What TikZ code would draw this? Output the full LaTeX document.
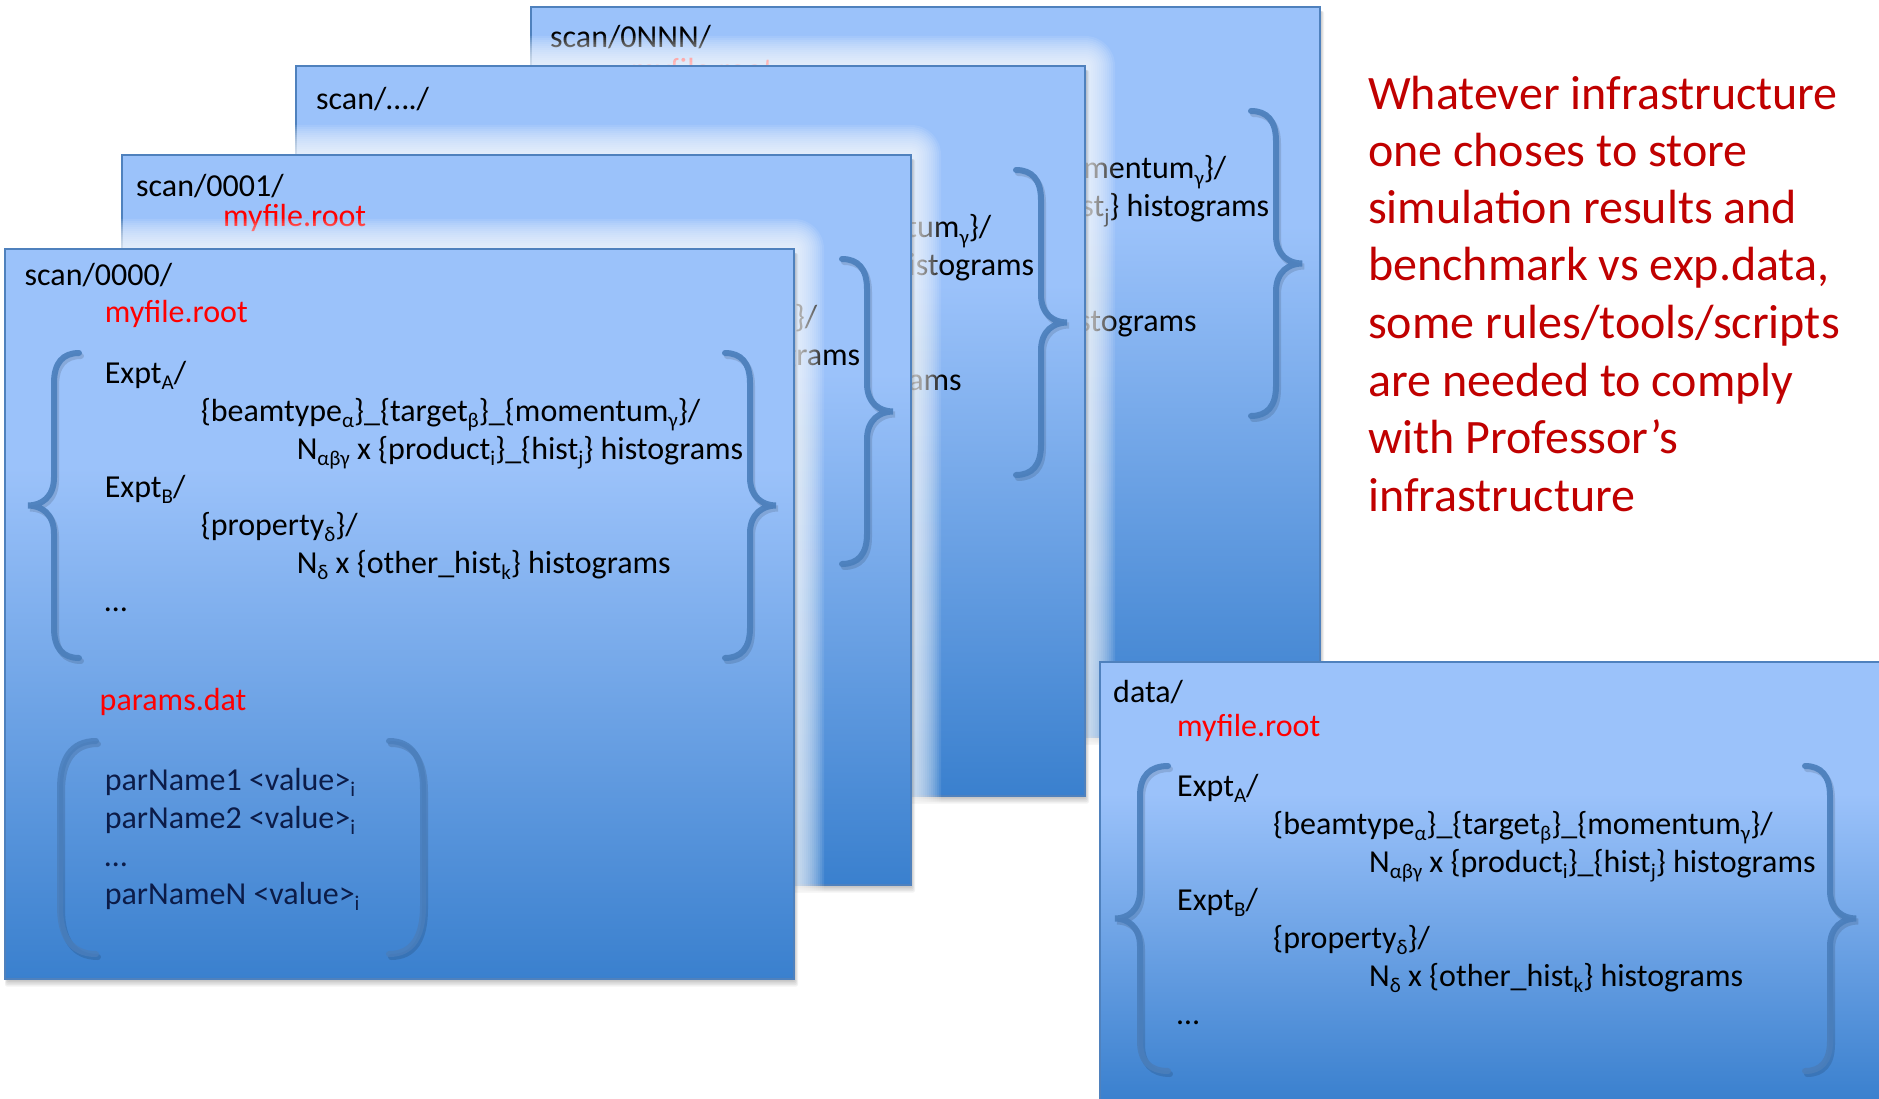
\documentclass[tikz,border=0pt]{standalone}
\usepackage{fontspec}
\setmainfont{Carlito}
\usepackage{graphicx}
\definecolor{sltop}{RGB}{155,194,250}
\definecolor{slbot}{RGB}{58,128,206}
\definecolor{bordc}{RGB}{79,129,189}
\definecolor{bracec}{RGB}{74,126,187}
\definecolor{navytxt}{RGB}{12,28,72}
\definecolor{filered}{RGB}{255,0,0}
\definecolor{notered}{RGB}{192,0,0}
\pgfdeclareverticalshading{slideshade}{100bp}{color(0bp)=(slbot); color(25bp)=(slbot); color(60bp)=(sltop); color(100bp)=(sltop)}
\newcommand\mfont{\fontsize{32}{38}\selectfont}
\newcommand\sbs[1]{\raisebox{-6.5pt}{\fontsize{21}{21}\selectfont #1}}
\tikzset{
  txt/.style={anchor=base west, inner sep=0pt, font=\mfont, text=black},
  filetxt/.style={txt, text=filered},
  partxt/.style={txt, text=navytxt},
  notetxt/.style={anchor=base west, inner sep=0pt, font=\fontsize{48}{57}\selectfont, text=notered},
  bracestroke/.style={draw=bracec, line width=6pt, line cap=round, opacity=0.9},
  braceshadow/.style={draw=black, line width=6pt, line cap=round, opacity=0.12},
  slidebox/.style={shade, shading=slideshade, draw=bordc, line width=2pt},
}
% curly brace: end x, vertical x, tip x, top y, bottom y
\newcommand\curly[5]{%
  \pgfmathsetmacro\cxe{#1}\pgfmathsetmacro\cxv{#2}\pgfmathsetmacro\cxt{#3}%
  \pgfmathsetmacro\cyt{#4}\pgfmathsetmacro\cyb{#5}%
  \pgfmathsetmacro\cym{(\cyt+\cyb)/2}%
  \pgfmathsetmacro\cca{\cxv+0.35*(\cxe-\cxv)}%
  \pgfmathsetmacro\ccb{\cxt+0.5*(\cxv-\cxt)}%
  \def\curlypath{(\cxe,\cyt) .. controls (\cca,\cyt) and (\cxv,{\cyt+10}) .. (\cxv,{\cyt+30})
    -- (\cxv,{\cym-28}) .. controls (\cxv,{\cym-8}) and (\ccb,\cym) .. (\cxt,\cym)
    .. controls (\ccb,\cym) and (\cxv,{\cym+8}) .. (\cxv,{\cym+28})
    -- (\cxv,{\cyb-30}) .. controls (\cxv,{\cyb-10}) and (\cca,\cyb) .. (\cxe,\cyb)}%
  \draw[braceshadow, shift={(2,3)}] \curlypath;
  \draw[bracestroke] \curlypath;
}
% parenthesis: end x, vertical x, top y, bottom y
\newcommand\paren[4]{%
  \pgfmathsetmacro\pxe{#1}\pgfmathsetmacro\pxv{#2}%
  \pgfmathsetmacro\pyt{#3}\pgfmathsetmacro\pyb{#4}%
  \pgfmathsetmacro\pca{\pxv+0.3*(\pxe-\pxv)}%
  \def\parenpath{(\pxe,\pyt) .. controls (\pca,\pyt) and (\pxv,{\pyt+18}) .. (\pxv,{\pyt+48})
    -- (\pxv,{\pyb-48}) .. controls (\pxv,{\pyb-18}) and (\pca,\pyb) .. (\pxe,\pyb)}%
  \draw[braceshadow, shift={(2,3)}] \parenpath;
  \draw[bracestroke, opacity=0.8] \parenpath;
}
\newcommand\glowbox[4]{%
  \foreach \g in {1,...,15}{%
    \pgfmathsetmacro\gd{2*\g}%
    \fill[white, opacity=0.09, rounded corners=\gd pt] ({#1-\gd},{#2-\gd}) rectangle ({#3+\gd},{#4+\gd});
  }}
\newcommand\dropshadow[4]{%
  \foreach \g in {1,...,5}{%
    \fill[black, opacity=0.05, rounded corners=2pt] ({#1+3-0.6*\g},{#2+4}) rectangle ({#3+0.8*\g},{#4+1.5*\g});
  }}
% full block: prefix, ExptA x, lb end, lb vert, lb tip, rb end, rb vert
\newcommand\exptblock[7]{%
  \node[txt] (#1-ea) at (#2,134) {Expt\sbs{A}/};
  \node[txt] (#1-bt) at ({#2+96},172) {\{beamtype\sbs{α}\}\_\{target\sbs{β}\}\_\{momentum\sbs{γ}\}/};
  \node[txt] (#1-na) at ({#2+192},210) {N\sbs{αβγ} x \{product\sbs{i}\}\_\{hist\sbs{j}\} histograms};
  \node[txt] (#1-eb) at (#2,248) {Expt\sbs{B}/};
  \node[txt] (#1-pr) at ({#2+96},286) {\{property\sbs{δ}\}/};
  \node[txt] (#1-nd) at ({#2+192},324) {N\sbs{δ} x \{other\_hist\sbs{k}\} histograms};
  \node[txt] (#1-dt) at (#2,362) {…};
  \curly{#3}{#4}{#5}{104}{409}
  \curly{#6}{#7}{#7+26}{104}{409}
}
% back slide: only the parts that peek out behind the front slides
\newcommand\backblock[1]{%
  \node[txt] (#1-bt) at (195.6,172) {\{beamtype\sbs{α}\}\_\{target\sbs{β}\}\_\{momentum\sbs{γ}\}/};
  \node[txt] (#1-na) at (291.6,210) {N\sbs{αβγ} x \{product\sbs{i}\}\_\{hist\sbs{j}\} histograms};
  \node[txt] (#1-nd) at (291.6,324) {N\sbs{δ} x \{other\_hist\sbs{k}\} histograms};
  \curly{720}{745}{771}{104}{409}
}
\begin{document}
\begin{tikzpicture}[x=1pt,y=-1pt]
\useasboundingbox[fill=white] (0,0) rectangle (1879,1099);
% ---- slide scan/0NNN/
\glowbox{531}{7}{1320}{737}
\dropshadow{531}{7}{1320}{737}
\path[slidebox] (531,7) rectangle (1320,737);
\begin{scope}[shift={(531,7)}]
  \node[txt] (d-head) at (19,41) {scan/0NNN/};
  \node[filetxt] (d-file) at (99.6,74) {myfile.root};
  \backblock{d}
\end{scope}
% ---- slide scan/..../
\glowbox{296}{66}{1085}{796}
\dropshadow{296}{66}{1085}{796}
\path[slidebox] (296,66) rectangle (1085,796);
\begin{scope}[shift={(296,66)}]
  \node[txt] (c-head) at (20,44) {scan/…./};
  \backblock{c}
\end{scope}
% ---- slide scan/0001/
\glowbox{122}{155}{911}{885}
\dropshadow{122}{155}{911}{885}
\path[slidebox] (122,155) rectangle (911,885);
\begin{scope}[shift={(122,155)}]
  \node[txt] (b-head) at (14,42) {scan/0001/};
  \node[filetxt] (b-file) at (101,72) {myfile.root};
  \node[txt] (b-bt) at (195.6,172) {\{beamtype\sbs{α}\}\_\{target\sbs{β}\}\_\{momentum\sbs{γ}\}/};
  \node[txt] (b-na) at (291.6,210) {N\sbs{αβγ} x \{product\sbs{i}\}\_\{hist\sbs{j}\} histograms};
  \curly{720}{745}{771}{104}{409}
\end{scope}
% ---- slide scan/0000/
\glowbox{5}{249}{794}{979}
\dropshadow{5}{249}{794}{979}
\path[slidebox] (5,249) rectangle (794,979);
\begin{scope}[shift={(5,249)}]
  \node[txt] (a-head) at (19.5,37) {scan/0000/};
  \node[filetxt] (a-file) at (99.6,74) {myfile.root};
  \exptblock{a}{99.6}{74}{49}{23}{720}{745}
  \node[filetxt] (a-pd) at (94.5,461) {params.dat};
  \node[partxt] (a-p1) at (99.6,541) {parName1 <value>\sbs{i}};
  \node[partxt] (a-p2) at (99.6,579) {parName2 <value>\sbs{i}};
  \node[partxt] (a-p3) at (99.6,617) {…};
  \node[partxt] (a-pn) at (99.6,655) {parNameN <value>\sbs{i}};
  \paren{91}{55}{492}{705}
  \paren{384}{418}{492}{705}
\end{scope}
% ---- slide data/
\dropshadow{1100}{662}{1890}{1101}
\path[slidebox] (1100,662) rectangle (1890,1101);
\begin{scope}[shift={(1100,662)}]
  \node[txt] (e-head) at (13,40) {data/};
  \node[filetxt] (e-file) at (77,74) {myfile.root};
  \exptblock{e}{77}{68}{40}{15}{705}{730}
\end{scope}
% ---- note
\node[notetxt] (r1) at (1368,110) {Whatever infrastructure};
\node[notetxt] (r2) at (1368,167) {one choses to store};
\node[notetxt] (r3) at (1368,224) {simulation results and};
\node[notetxt] (r4) at (1368,281) {benchmark vs exp.data,};
\node[notetxt] (r5) at (1368,338) {some rules/tools/scripts};
\node[notetxt] (r6) at (1368,396) {are needed to comply};
\node[notetxt] (r7) at (1368,453) {with Professor’s};
\node[notetxt] (r8) at (1368,511) {infrastructure};
\end{tikzpicture}
\end{document}
